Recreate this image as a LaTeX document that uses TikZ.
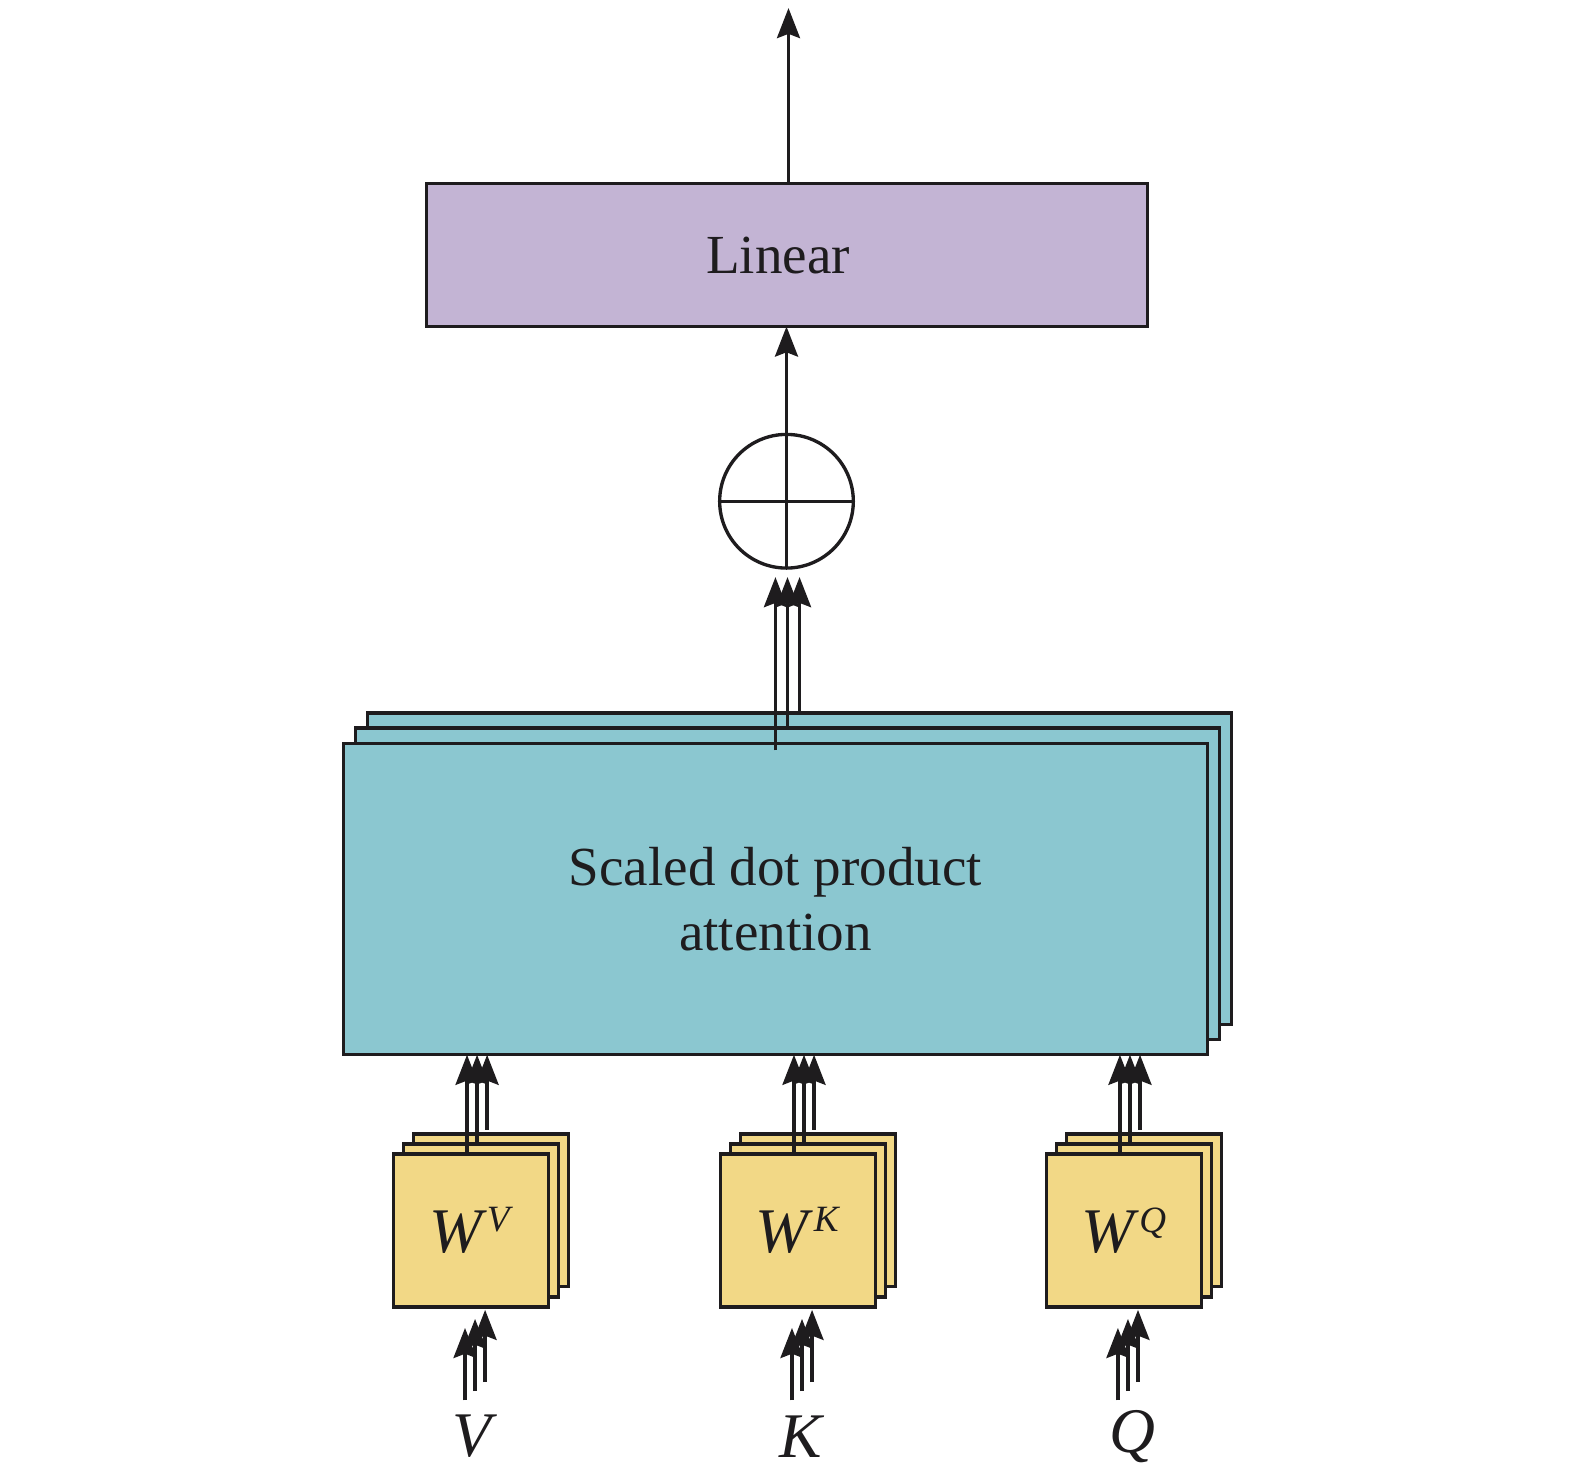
\documentclass[tikz,border=0pt]{standalone}
\usepackage{fontspec}
\setmainfont{Liberation Serif}
\usetikzlibrary{arrows.meta,calc}
\definecolor{linc}{RGB}{195,180,212}
\definecolor{attc}{RGB}{139,199,208}
\definecolor{wyc}{RGB}{242,216,134}
\definecolor{ink}{RGB}{30,28,30}
\newcommand{\wfont}{\fontsize{18}{22}\selectfont}
\newcommand{\supfont}{\fontsize{10.5}{12}\selectfont}
\begin{document}
\begin{tikzpicture}[x=0.01cm,y=-0.01cm,line width=0.95pt,color=ink,
  box/.style={draw=ink,inner sep=0pt,outer sep=0pt,align=center,text=ink,
    font=\fontsize{15.6}{18.6}\selectfont},
  attnbox/.style={box,fill=attc,minimum width=8.6cm,minimum height=3.1cm},
  wbox/.style={box,fill=wyc,minimum width=1.54cm,minimum height=1.52cm},
  linbox/.style={box,fill=linc,minimum width=7.17cm,minimum height=1.42cm},
  sumnode/.style={circle,draw=ink,fill=white,inner sep=0pt,outer sep=0pt,minimum size=1.33cm},
  arr/.style={-{Stealth[length=8.5pt,width=6.5pt,inset=1.2pt]}}]
\useasboundingbox (0,0) rectangle (1568,1465);
% Linear
\node[linbox] (lin) at (783.5,254) {\hspace*{-0.18cm}Linear};
% sum
\node[sumnode] (sum) at (783,499) {};
\draw (sum.north) -- (sum.south);
\draw (sum.west) -- (sum.east);
% attention stack
\node[attnbox] (a3) at (796,865) {};
\node[attnbox] (a2) at (784,880) {};
\node[attnbox] (a1) at (772,895) {Scaled dot product\\attention};
% output arrows
\coordinate (out) at (785,8);
\draw[arr] (lin.north -| out) -- (out);
\draw[arr] (sum.north) -- (sum.north |- lin.south);
% attention to sum
\coordinate (c1) at ($(a1.north)+(0,7)$);
\coordinate (c2) at (a2.north);
\coordinate (c3) at (a3.north);
\foreach \k in {1,2,3}{
  \draw[arr] (c\k) -- ($(c\k |- sum.south)+(0,9)$);
}
% projection boxes
\foreach \n/\cx/\lbl/\lx in {v/469/V/470, k/794.5/K/797, q/1119/Q/1127}{
  \node[wbox] (w\n3) at (\cx+20,1205) {};
  \node[wbox] (w\n2) at (\cx+10,1215) {};
  \node[wbox,font=\wfont] (w\n1) at (\cx,1225) {\textit{W}\raisebox{5.8pt}{\supfont\textit{\lbl}}};
  \node[font=\wfont\itshape,text=ink] (in\n) at (\lx,1430) {\lbl};
  \foreach \k in {0,1,2}{
    \coordinate (s\n\k) at ($(w\n1.north west)+({73+10*\k},{-12*\k})$);
    \draw[arr] (s\n\k) -- (s\n\k |- a1.south);
    \coordinate (b\n\k) at ($(w\n1.south west)+({71+10*\k},{93-9*\k})$);
    \coordinate (t\n\k) at ($(b\n\k)+(0,-72)$);
    \draw[arr] (b\n\k) -- (t\n\k);
  }
}
\end{tikzpicture}
\end{document}
